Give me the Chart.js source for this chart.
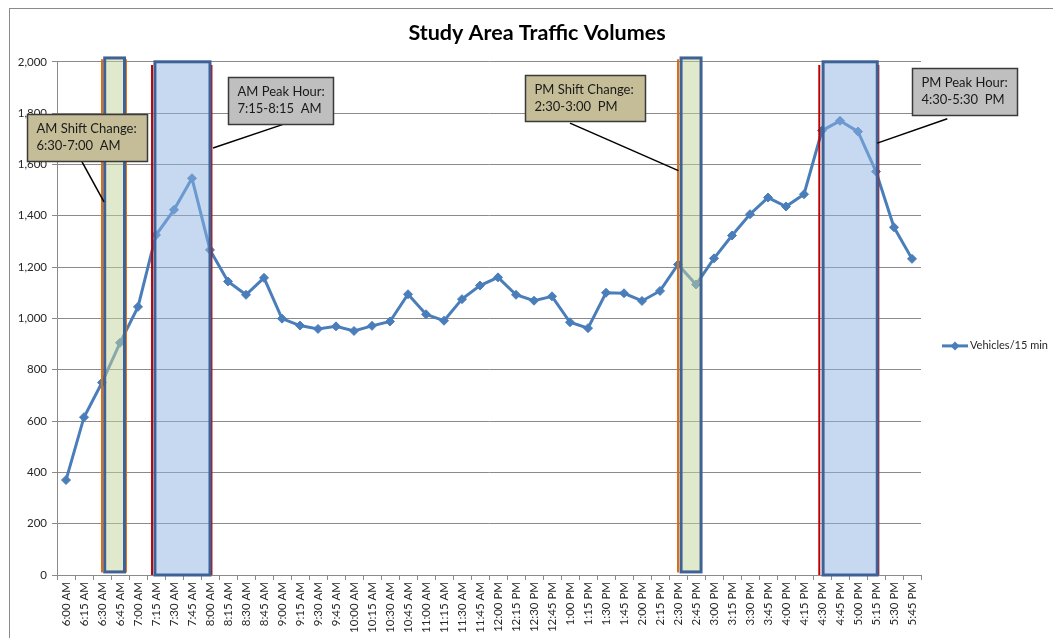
<!DOCTYPE html>
<html>
<head>
<meta charset="utf-8">
<title>Study Area Traffic Volumes</title>
<script src="https://cdn.jsdelivr.net/npm/chart.js@4.4.1/dist/chart.umd.min.js"></script>
<style>
  html, body { margin: 0; padding: 0; background: #fff; overflow: hidden; }
  canvas { display: block; }
</style>
</head>
<body>
<!-- El gráfico original continúa más allá del borde derecho de la imagen -->
<canvas id="trafficChart" width="1074" height="638"></canvas>
<script>
// Datos
const timeLabels = [
  '6:00 AM', '6:15 AM', '6:30 AM', '6:45 AM', '7:00 AM', '7:15 AM', '7:30 AM', '7:45 AM',
  '8:00 AM', '8:15 AM', '8:30 AM', '8:45 AM', '9:00 AM', '9:15 AM', '9:30 AM', '9:45 AM',
  '10:00 AM', '10:15 AM', '10:30 AM', '10:45 AM', '11:00 AM', '11:15 AM', '11:30 AM', '11:45 AM',
  '12:00 PM', '12:15 PM', '12:30 PM', '12:45 PM', '1:00 PM', '1:15 PM', '1:30 PM', '1:45 PM',
  '2:00 PM', '2:15 PM', '2:30 PM', '2:45 PM', '3:00 PM', '3:15 PM', '3:30 PM', '3:45 PM',
  '4:00 PM', '4:15 PM', '4:30 PM', '4:45 PM', '5:00 PM', '5:15 PM', '5:30 PM', '5:45 PM'
];
const vehicles = [
  370, 615, 750, 905, 1045, 1325, 1423, 1546,
  1267, 1144, 1092, 1158, 999, 972, 959, 969,
  951, 971, 988, 1094, 1016, 991, 1075, 1128,
  1160, 1092, 1069, 1086, 985, 962, 1100, 1098,
  1068, 1107, 1210, 1132, 1234, 1323, 1406, 1471,
  1436, 1484, 1732, 1770, 1728, 1572, 1355, 1232
];
const seriesName = 'Vehicles/15 min';
const chartTitle = 'Study Area Traffic Volumes';
const yMin = 0;
const yMax = 2000;
const yStep = 200;

// Franjas (en índice de categoría)
const shiftBands = [[2.15, 3.25], [34.17, 35.28]];
const peakBands = [[4.94, 8.0], [42.06, 45.07]];
const orangeMarks = [2.0, 3.33, 34.0];
const redMarks = [4.78, 8.08, 41.85, 45.13];

// Textos de las notas
const calloutTexts = [
  ['AM Shift Change:', '6:30-7:00  AM'],
  ['AM Peak Hour:', '7:15-8:15  AM'],
  ['PM Shift Change:', '2:30-3:00  PM'],
  ['PM Peak Hour:', '4:30-5:30  PM']
];

const LINE_BLUE = '#4a7ebb';
const FONT = 'Lato, "Liberation Sans", sans-serif';

// Posición de las notas en unidades de los ejes
const calloutSpots = [
  { x: [-2.17, 4.5], y: [1797, 1615], fill: '#c4bd97', from: [0.83, 1618], to: [2.11, 1454] },
  { x: [8.98, 14.82], y: [1940, 1758], fill: '#bfbfbf', from: [12.06, 1756], to: [8.17, 1664] },
  { x: [25.5, 32.17], y: [1949, 1770], fill: '#c4bd97', from: [28.0, 1761], to: [34.02, 1576] },
  { x: [46.98, 52.85], y: [1975, 1791], fill: '#bfbfbf', from: [48.96, 1778], to: [45.07, 1683] }
];

function vLine(ctx, x, y, idx, v0, v1, color) {
  const px = x.getPixelForValue(idx);
  ctx.beginPath();
  ctx.strokeStyle = color;
  ctx.lineWidth = 2;
  ctx.moveTo(px, y.getPixelForValue(v0));
  ctx.lineTo(px, y.getPixelForValue(v1));
  ctx.stroke();
}

function band(ctx, x, y, range, v0, v1, fill) {
  const left = x.getPixelForValue(range[0]);
  const right = x.getPixelForValue(range[1]);
  const top = y.getPixelForValue(v1);
  const bottom = y.getPixelForValue(v0);
  ctx.fillStyle = fill;
  ctx.fillRect(left, top, right - left, bottom - top);
  ctx.strokeStyle = '#3e6196';
  ctx.lineWidth = 3;
  ctx.strokeRect(left, top, right - left, bottom - top);
}

const overlayPlugin = {
  id: 'overlays',
  beforeDraw(chart) {
    const ctx = chart.ctx;
    ctx.save();
    ctx.strokeStyle = '#8a8a8a';
    ctx.lineWidth = 1;
    ctx.strokeRect(9.5, 8.5, chart.width + 20, chart.height + 20);
    ctx.restore();
  },
  afterDatasetsDraw(chart) {
    const { ctx, scales: { x, y } } = chart;
    ctx.save();
    orangeMarks.forEach(m => vLine(ctx, x, y, m, 10, 2010, '#e46c0a'));
    redMarks.forEach(m => vLine(ctx, x, y, m, 0, 1988, '#c00000'));
    shiftBands.forEach(b => band(ctx, x, y, b, 12, 2015, 'rgba(195, 211, 155, 0.5)'));
    peakBands.forEach(b => band(ctx, x, y, b, 0, 2000, 'rgba(141, 179, 227, 0.5)'));

    // Notas con su línea guía
    calloutSpots.forEach((c, i) => {
      ctx.beginPath();
      ctx.strokeStyle = '#000';
      ctx.lineWidth = 1.5;
      ctx.moveTo(x.getPixelForValue(c.from[0]), y.getPixelForValue(c.from[1]));
      ctx.lineTo(x.getPixelForValue(c.to[0]), y.getPixelForValue(c.to[1]));
      ctx.stroke();

      const left = Math.round(x.getPixelForValue(c.x[0])) + 0.5;
      const right = Math.round(x.getPixelForValue(c.x[1])) + 0.5;
      const top = Math.round(y.getPixelForValue(c.y[0])) + 0.5;
      const bottom = Math.round(y.getPixelForValue(c.y[1])) + 0.5;
      ctx.fillStyle = c.fill;
      ctx.fillRect(left, top, right - left, bottom - top);
      ctx.strokeStyle = '#3a3a3a';
      ctx.lineWidth = 1.5;
      ctx.strokeRect(left, top, right - left, bottom - top);

      ctx.fillStyle = '#1a1a1a';
      ctx.font = '13px ' + FONT;
      ctx.textBaseline = 'middle';
      ctx.textAlign = 'left';
      ctx.fillText(calloutTexts[i][0], left + 9, top + 14);
      ctx.fillText(calloutTexts[i][1], left + 9, top + 31);
    });
    ctx.restore();
  },
  afterDraw(chart) {
    // Leyenda a la derecha
    const { ctx, chartArea } = chart;
    const lx = chartArea.right + 21;
    const ly = (chartArea.top + chart.height) / 2 - 4;
    ctx.save();
    ctx.strokeStyle = LINE_BLUE;
    ctx.lineWidth = 3;
    ctx.beginPath();
    ctx.moveTo(lx, ly);
    ctx.lineTo(lx + 26, ly);
    ctx.stroke();
    ctx.fillStyle = LINE_BLUE;
    ctx.beginPath();
    ctx.moveTo(lx + 13, ly - 4.5);
    ctx.lineTo(lx + 17.5, ly);
    ctx.lineTo(lx + 13, ly + 4.5);
    ctx.lineTo(lx + 8.5, ly);
    ctx.closePath();
    ctx.fill();
    ctx.fillStyle = '#262626';
    ctx.font = '11px ' + FONT;
    ctx.textBaseline = 'middle';
    ctx.fillText(chart.data.datasets[0].label, lx + 28, ly);
    ctx.restore();
  }
};

const ctx = document.getElementById('trafficChart').getContext('2d');
const chart = new Chart(ctx, {
  type: 'line',
  data: {
    labels: timeLabels,
    datasets: [{
      label: seriesName,
      data: vehicles,
      borderColor: LINE_BLUE,
      backgroundColor: LINE_BLUE,
      borderWidth: 3,
      pointStyle: 'rectRot',
      pointRadius: 4.5,
      pointBackgroundColor: LINE_BLUE,
      pointBorderColor: LINE_BLUE,
      pointBorderWidth: 1,
      tension: 0,
      fill: false
    }]
  },
  options: {
    responsive: false,
    animation: false,
    layout: { padding: 0 },
    plugins: {
      legend: { display: false },
      tooltip: { enabled: false },
      title: {
        display: true,
        text: chartTitle,
        color: '#000',
        font: { family: FONT, size: 21.5, weight: 'bold' },
        padding: { top: 20, bottom: 16 }
      }
    },
    scales: {
      x: {
        offset: true,
        grid: { offset: true, drawOnChartArea: false, drawTicks: true, tickLength: 5, color: '#8a8a8a' },
        border: { color: '#8a8a8a' },
        ticks: {
          autoSkip: false, maxRotation: 90, minRotation: 90, padding: 2,
          color: '#262626', font: { family: FONT, size: 11.5 }
        },
        afterFit(s) { s.height = 63; }
      },
      y: {
        min: yMin,
        max: yMax,
        ticks: {
          stepSize: yStep, padding: 5, color: '#262626',
          font: { family: FONT, size: 11.5 },
          callback: v => v.toLocaleString('en-US')
        },
        grid: { color: '#8a8a8a', tickLength: 5 },
        border: { color: '#8a8a8a' },
        afterFit(s) { s.width = 57; }
      },
      y2: {
        position: 'right',
        display: true,
        grid: { display: false },
        border: { display: false },
        ticks: { display: false },
        afterFit(s) { s.width = 153; }
      }
    }
  },
  plugins: [overlayPlugin]
});
</script>
</body>
</html>
